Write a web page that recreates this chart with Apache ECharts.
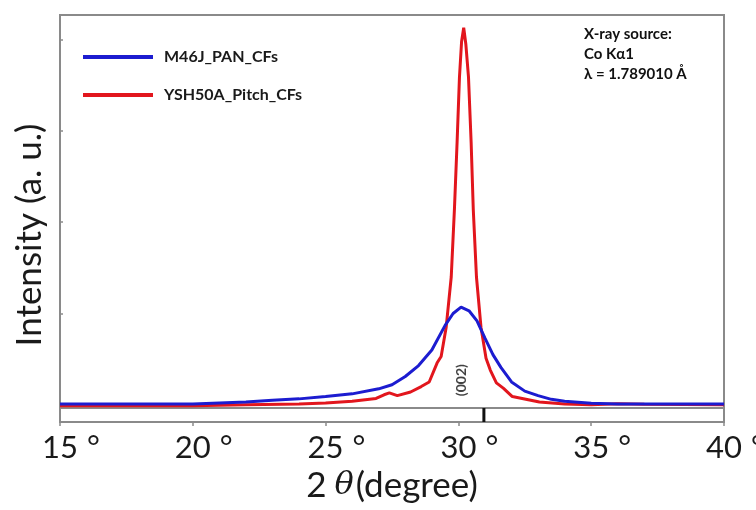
<!DOCTYPE html>
<html>
<head>
<meta charset="utf-8">
<script src="https://cdn.jsdelivr.net/npm/echarts@6/dist/echarts.min.js"></script>
<style>
html, body { margin: 0; padding: 0; background: #fff; }
#xrd { width: 756px; height: 510px; }
</style>
</head>
<body>
<div id="xrd"></div>
<script>
// 2θ (degree) and intensity (a. u.)
const panAngle = [15, 18, 20, 21, 22, 23, 24, 25, 26, 27, 27.5, 28, 28.5, 29, 29.5, 29.8,
    30.1, 30.4, 30.7, 31, 31.3, 31.6, 32, 32.5, 33, 33.5, 34, 35, 36, 40];
const panIntensity = [0.01, 0.01, 0.01, 0.02, 0.03, 0.05, 0.065, 0.09, 0.12, 0.175, 0.22, 0.31, 0.43, 0.6, 0.87, 1.0,
    1.07, 1.03, 0.92, 0.73, 0.55, 0.41, 0.25, 0.15, 0.1, 0.06, 0.04, 0.016, 0.01, 0.01];

const pitchAngle = [15, 20, 22, 24, 25, 26, 26.9, 27.2, 27.4, 27.7, 28.2, 28.6, 28.9, 29.2, 29.35, 29.54,
    29.73, 29.85, 29.95, 30.04, 30.12, 30.2, 30.28, 30.38, 30.48, 30.56, 30.68, 30.85, 31.04, 31.2,
    31.43, 31.7, 32.03, 32.4, 33.05, 34, 35, 36, 37, 40];
const pitchIntensity = [-0.01, -0.01, 0, 0.01, 0.02, 0.04, 0.07, 0.11, 0.13, 0.1, 0.14, 0.2, 0.25, 0.46, 0.53, 0.85,
    1.4, 2.14, 2.87, 3.59, 3.98, 4.13, 3.95, 3.59, 2.87, 2.14, 1.4, 0.85, 0.51, 0.38,
    0.24, 0.18, 0.09, 0.07, 0.03, 0.01, 0, 0.012, 0.005, 0];

const seriesNames = ['M46J_PAN_CFs', 'YSH50A_Pitch_CFs'];
const yTicks = [0, 1, 2, 3, 4];
const refPeak = 30.96;          // (002) reference line
const peakLabelAt = [30.11, 0.27];

function zip(xs, ys) {
    return xs.map((x, i) => [x, ys[i]]);
}

const chart = echarts.init(document.getElementById('xrd'));

const gray = '#8a8a8a';
const font = 'Lato';

const option = {
    animation: false,
    grid: [
        { left: 60, right: 32, top: 15, height: 393, show: true, borderColor: gray, borderWidth: 2, outerBoundsMode: 'none', containLabel: false },
        { left: 60, right: 32, top: 408, height: 14, show: true, borderColor: gray, borderWidth: 2, outerBoundsMode: 'none', containLabel: false }
    ],
    legend: {
        data: seriesNames,
        orient: 'vertical',
        left: 78,
        top: 42,
        icon: 'rect',
        itemWidth: 70,
        itemHeight: 4,
        itemGap: 18,
        textStyle: { fontFamily: font, fontWeight: 'bold', fontSize: 16, color: '#1a1a1a', padding: [0, 0, 0, 6], lineHeight: 20 }
    },
    xAxis: [
        {
            type: 'value', min: 15, max: 40, interval: 5,
            axisLine: { show: false }, axisTick: { show: false },
            axisLabel: { show: false }, splitLine: { show: false }
        },
        {
            type: 'value', gridIndex: 1, min: 15, max: 40, interval: 5,
            axisLine: { show: false },
            axisTick: { show: true, inside: false, length: 4, lineStyle: { color: gray, width: 1.5 } },
            splitLine: { show: false },
            axisLabel: {
                margin: 10,
                formatter: v => '{s|}{n|' + v + '}{d| °}',
                rich: {
                    s: { width: 23 },
                    n: { fontFamily: font, fontSize: 31, color: '#1a1a1a' },
                    d: { width: 23, fontFamily: font, fontSize: 31, color: '#1a1a1a', align: 'left' }
                }
            },
            name: '{a|2}{b|θ}{a|(degree)}',
            nameLocation: 'middle',
            nameGap: 46,
            nameTextStyle: {
                rich: {
                    a: { fontFamily: font, fontSize: 35, color: '#1a1a1a' },
                    b: { fontFamily: 'DejaVu Serif', fontStyle: 'italic', fontSize: 32, color: '#1a1a1a', padding: [0, 2, 0, 8] }
                }
            }
        }
    ],
    yAxis: [
        {
            type: 'value', min: -0.035, max: 4.27,
            axisLine: { show: false },
            axisTick: { show: true, inside: true, length: 3, customValues: yTicks, lineStyle: { color: gray, width: 1.5 } },
            axisLabel: { show: false },
            splitLine: { show: false }
        },
        { type: 'value', gridIndex: 1, min: 0, max: 1, show: false }
    ],
    graphic: [
        {
            type: 'text', x: 30, y: 235, rotation: Math.PI / 2,
            style: { text: 'Intensity (a. u.)', font: '35px Lato', fill: '#1a1a1a', align: 'center', verticalAlign: 'middle' }
        },
        {
            type: 'text', x: 584, y: 24,
            style: { text: 'X-ray source:\nCo Kα1\nλ = 1.789010 Å', font: 'bold 15px Lato', lineHeight: 20, fill: '#111' }
        }
    ],
    series: [
        {
            name: seriesNames[1],
            type: 'line',
            data: zip(pitchAngle, pitchIntensity),
            showSymbol: false,
            color: '#e2161d',
            lineStyle: { width: 3, color: '#e2161d' }
        },
        {
            name: seriesNames[0],
            type: 'line',
            data: zip(panAngle, panIntensity),
            showSymbol: false,
            color: '#1c1cd0',
            lineStyle: { width: 3, color: '#1c1cd0' }
        },
        {
            type: 'scatter',
            data: [peakLabelAt],
            symbolSize: 1,
            itemStyle: { color: 'rgba(0,0,0,0)' },
            silent: true,
            z: 5,
            label: {
                show: true, position: 'inside', rotate: 90, formatter: '(002)',
                fontFamily: font, fontWeight: 'bold', fontSize: 14, color: '#111'
            }
        },
        {
            type: 'line',
            xAxisIndex: 1,
            yAxisIndex: 1,
            data: [[refPeak, 0], [refPeak, 1]],
            showSymbol: false,
            silent: true,
            lineStyle: { color: '#111', width: 3, cap: 'butt' }
        }
    ]
};

chart.setOption(option);
</script>
</body>
</html>
